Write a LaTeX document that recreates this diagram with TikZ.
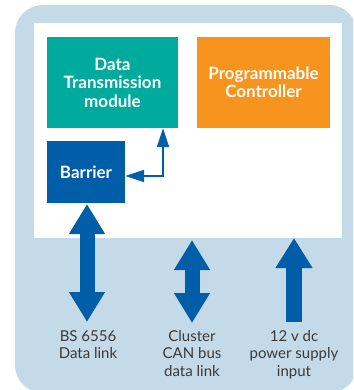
\documentclass[tikz,border=0pt]{standalone}
\usepackage{fontspec}
\setmainfont{Lato}
\usetikzlibrary{arrows.meta}
\definecolor{bgblue}{HTML}{C4DAE9}
\definecolor{teal}{HTML}{00AB9E}
\definecolor{orng}{HTML}{F7941D}
\definecolor{dblue}{HTML}{005EA8}
\definecolor{txtgrey}{HTML}{3A3A3A}
\tikzset{
  blockbox/.style={draw=none, inner sep=0pt, text=white, align=center,
    font=\fontsize{17}{18.5}\selectfont\bfseries},
  lbl/.style={inner sep=0pt, text=txtgrey, align=center, anchor=north,
    font=\fontsize{15}{17.5}\selectfont},
  thinarr/.style={draw=dblue, line width=2.2pt,
    {Triangle[length=19pt,width=12pt]}-{Triangle[length=19pt,width=12pt]}},
  bigdbl/.style={draw=dblue, line width=15pt,
    {Triangle[length=30pt,width=34pt]}-{Triangle[length=30pt,width=34pt]}},
  bigsgl/.style={draw=dblue, line width=16pt, -{Triangle[length=30pt,width=35pt]}},
}
\begin{document}
\begin{tikzpicture}[x=1pt,y=-1pt]
\useasboundingbox (0,0) rectangle (353,390);
\begin{scope}
\clip (0,0) rectangle (353,390);
\fill[bgblue, rounded corners=28pt] (15,5) rectangle (357,393);
\end{scope}
\fill[white] (34,23) rectangle (342,238);
\node[blockbox, fill=teal, minimum width=131pt, minimum height=91pt] (dtm) at (112.5,82.5)
  {Data\\Transmission\\module};
\node[blockbox, fill=orng, minimum width=133pt, minimum height=91pt] (pc) at (263.5,82.5)
  {Programmable\\Controller};
\node[blockbox, fill=dblue, minimum width=78pt, minimum height=62pt] (bar) at (86,172)
  {Barrier};
\draw[thinarr] (163,0 |- dtm.south) -- (163,176) -- (bar.east |- 0,176);
\node[lbl] (l1) at (88,330) {BS 6556\\Data link};
\node[lbl] (l2) at (192,330) {Cluster\\CAN bus\\data link};
\node[lbl] (l3) at (294,330) {12 v dc\\power supply\\input};
\coordinate (a1t) at (87,204);
\coordinate (a1b) at (87,322);
\coordinate (a2t) at (192,240);
\coordinate (a2b) at (192,323);
\coordinate (a3t) at (294,238);
\coordinate (a3b) at (294,322);
\draw[bigdbl] (a1t) -- (a1b);
\draw[bigdbl] (a2t) -- (a2b);
\draw[bigsgl] (a3b) -- (a3t);
\end{tikzpicture}
\end{document}
